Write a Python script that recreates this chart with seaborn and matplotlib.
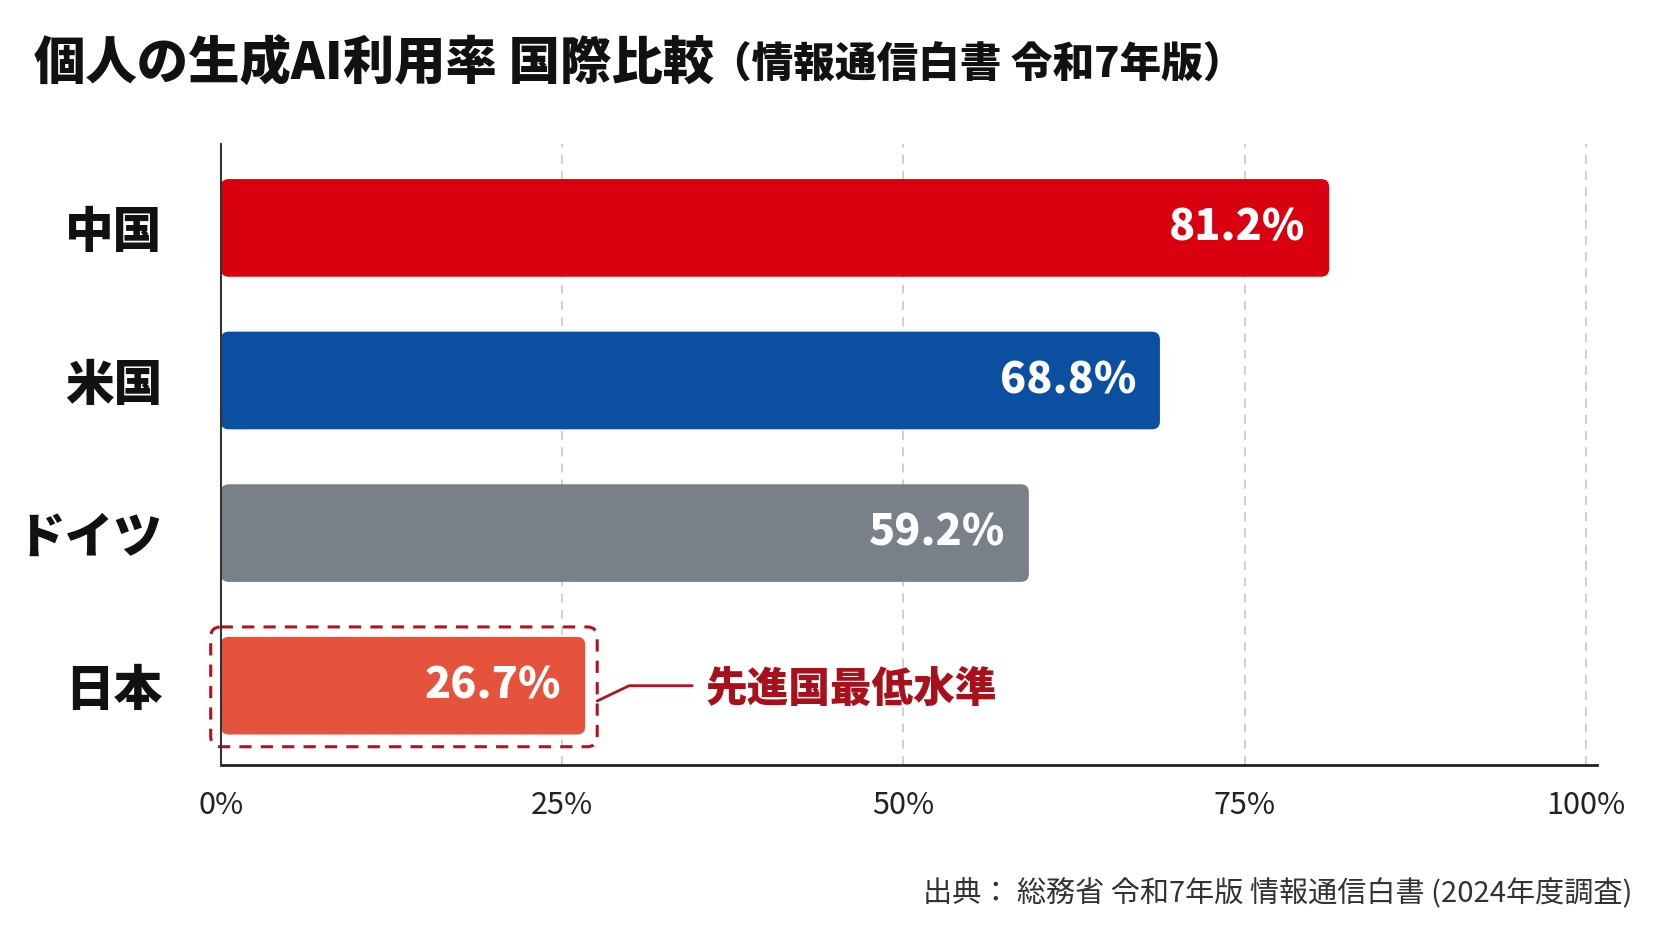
import numpy as np
import pandas as pd
import matplotlib
matplotlib.use('Agg')
import matplotlib.pyplot as plt
import seaborn as sns
from matplotlib.patches import FancyBboxPatch

# data
countries = ['中国', '米国', 'ドイツ', '日本']
rates = [81.2, 68.8, 59.2, 26.7]
bar_colors = ['#D9000F', '#0B4FA0', '#7A8088', '#E5533D']
x_ticks = [0, 25, 50, 75, 100]
x_labels = ['0%', '25%', '50%', '75%', '100%']

title_main = '個人の生成AI利用率 国際比較'
title_sub = '（情報通信白書 令和7年版）'
note_text = '先進国最低水準'
source_text = '出典： 総務省 令和7年版 情報通信白書 (2024年度調査)'

sns.set_theme(style='white')
plt.rcParams['font.family'] = ['Noto Sans CJK JP', 'DejaVu Sans']

df = pd.DataFrame({'country': countries, 'rate': rates})

fig = plt.figure(figsize=(16.72, 9.41), dpi=100)
ax = fig.add_axes([0.132, 0.187, 0.823, 0.66])

sns.barplot(data=df, x='rate', y='country', hue='country', palette=bar_colors,
            legend=False, width=0.64, ax=ax, saturation=1)

ax.set_xlim(0, 100.8)
ax.set_ylim(3.52, -0.55)

# rounded bars in place of the plain rectangles
fig.canvas.draw()
inv = ax.transData.inverted()
p0 = inv.transform((0, 0))
p1 = inv.transform((1, 1))
xu = abs(p1[0] - p0[0])   # data x per pixel
yu = abs(p1[1] - p0[1])   # data y per pixel
aspect = yu / xu
for patch in list(ax.patches):
    x, y = patch.get_x(), patch.get_y()
    w, h = patch.get_width(), patch.get_height()
    fc = patch.get_facecolor()
    patch.set_visible(False)
    ax.add_patch(FancyBboxPatch((x, y), w, h,
                                boxstyle='round,pad=0,rounding_size=%f' % (8 * xu),
                                mutation_aspect=aspect, facecolor=fc,
                                edgecolor='none', zorder=3))

# value labels inside bars
for i, v in enumerate(rates):
    ax.text(v - 24 * xu, i, f'{v}%', ha='right', va='center', color='white',
            fontsize=31, fontweight='heavy', zorder=5)

# dashed highlight box round Japan
j = countries.index('日本')
jv = rates[j]
box_x0 = -10 * xu
box_x1 = jv + 12 * xu
ax.add_patch(FancyBboxPatch((box_x0, j - 0.385), box_x1 - box_x0, 0.785,
                            boxstyle='round,pad=0,rounding_size=%f' % (10 * xu),
                            mutation_aspect=aspect, facecolor='none',
                            edgecolor='#B5121B', linestyle=(0, (4, 3)),
                            linewidth=2.2, zorder=4, clip_on=False))
ax.plot([box_x1, box_x1 + 32 * xu, box_x1 + 95 * xu],
        [j + 0.1, j, j], color='#B5121B', linewidth=2, zorder=4)
ax.text(box_x1 + 108 * xu, j + 0.03, note_text, ha='left', va='center',
        color='#A8101C', fontsize=30, fontweight='heavy')

# axes styling
ax.set_xticks(x_ticks)
ax.set_xticklabels(x_labels)
ax.tick_params(axis='x', labelsize=22, colors='#222222', pad=18, length=0)
ax.tick_params(axis='y', length=0, pad=42)
for lab in ax.get_yticklabels():
    lab.set_fontsize(35)
    lab.set_fontweight('heavy')
    lab.set_color('#111111')
ax.set_xlabel('')
ax.set_ylabel('')
for xv in x_ticks[1:]:
    ax.axvline(xv, color='#CCCCCC', linestyle=(0, (5, 4)), linewidth=1.3, zorder=0)
sns.despine(ax=ax, top=True, right=True)
ax.spines['left'].set_color('#333333')
ax.spines['left'].set_linewidth(1.5)
ax.spines['bottom'].set_color('#222222')
ax.spines['bottom'].set_linewidth(2)
ax.spines['left'].set_zorder(6)

# title in two sizes
t1 = fig.text(34 / 1672, 1 - 64 / 941, title_main, ha='left', va='center',
              fontsize=37, fontweight='heavy', color='#111111')
fig.canvas.draw()
bb = t1.get_window_extent()
fig.text((bb.x1 - 4) / 1672, 1 - 66 / 941, title_sub, ha='left', va='center',
         fontsize=30, fontweight='heavy', color='#111111')

fig.text(1632 / 1672, 1 - 893 / 941, source_text, ha='right', va='center',
         fontsize=21, color='#333333')

fig.savefig('out.png', dpi=100, facecolor='white')
